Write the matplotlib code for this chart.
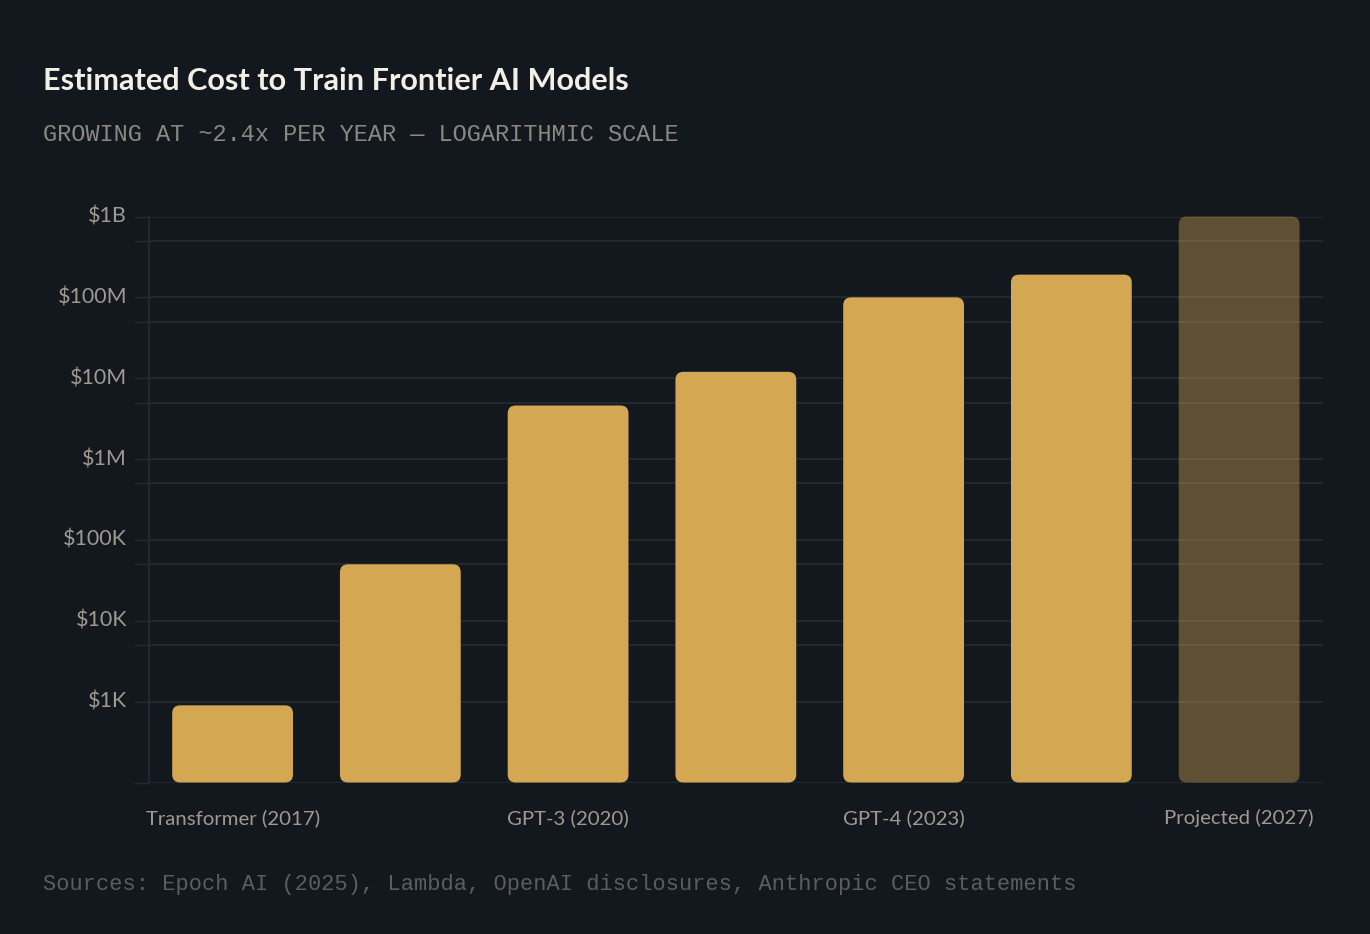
import matplotlib
matplotlib.use("Agg")
import matplotlib.pyplot as plt
from matplotlib.patches import FancyBboxPatch
from matplotlib.ticker import FixedLocator, NullFormatter
import matplotlib.transforms as mtransforms

# ---------------- data ----------------
models = ["Transformer (2017)", "GPT-2 (2019)", "GPT-3 (2020)", "PaLM (2022)",
          "GPT-4 (2023)", "Gemini Ultra (2024)", "Projected (2027)"]
costs = [900, 50_000, 4_600_000, 12_000_000, 100_000_000, 191_000_000, 1_000_000_000]
projected = [False, False, False, False, False, False, True]
show_label = [True, False, True, False, True, False, True]

ytick_values = [1e2, 1e3, 1e4, 1e5, 1e6, 1e7, 1e8, 1e9]
ytick_labels = ["", "$1K", "$10K", "$100K", "$1M", "$10M", "$100M", "$1B"]
minor_grid = [5e3, 5e4, 5e5, 5e6, 5e7, 5e8]

title = "Estimated Cost to Train Frontier AI Models"
subtitle = "GROWING AT ~2.4x PER YEAR — LOGARITHMIC SCALE"
footer = "Sources: Epoch AI (2025), Lambda, OpenAI disclosures, Anthropic CEO statements"

# ---------------- style ----------------
BG = "#13171e"
GRID = "#252930"
BAR = "#d4a853"
TICK = "#a09990"
TITLE_C = "#f3efe7"
SUB_C = "#8c8780"
FOOT_C = "#5b5d61"
SANS = ["Lato", "DejaVu Sans"]
MONO = ["Liberation Mono", "DejaVu Sans Mono"]

W, H = 1370, 934
fig = plt.figure(figsize=(W / 100, H / 100), dpi=100, facecolor=BG)

ax_l, ax_r, ax_t, ax_b = 148.7, 1323, 216.5, 782.5
ax = fig.add_axes([ax_l / W, 1 - ax_b / H, (ax_r - ax_l) / W, (ax_b - ax_t) / H])
ax.set_facecolor(BG)
ax.set_yscale("log")
ax.set_ylim(1e2, 1e9)
n = len(models)
ax.set_xlim(-0.5, n - 0.5)

# grid & ticks
ax.yaxis.set_major_locator(FixedLocator(ytick_values))
ax.set_yticklabels(ytick_labels)
ax.yaxis.set_minor_locator(FixedLocator(minor_grid))
ax.yaxis.set_minor_formatter(NullFormatter())
ax.grid(True, which="both", axis="y", color=GRID, linewidth=1.3, zorder=0)
ax.tick_params(axis="y", which="both", length=11, width=1, color=GRID,
               labelcolor=TICK, labelsize=15.5, pad=4.5)
up = mtransforms.ScaledTranslation(0, 2 / 100, fig.dpi_scale_trans)
for lab in ax.get_yticklabels():
    lab.set_family(SANS)
    lab.set_transform(lab.get_transform() + up)
ax.set_axisbelow(True)

for s in ["top", "right", "bottom"]:
    ax.spines[s].set_visible(False)
ax.spines["left"].set_color(GRID)
ax.spines["left"].set_linewidth(1.3)

# bars
bars = ax.bar(range(n), costs, width=0.72, color=BAR)
ax.set_xticks(range(n))
ax.set_xticklabels([m if s else "" for m, s in zip(models, show_label)],
                   family=SANS, fontsize=14.7, color=TICK)
ax.tick_params(axis="x", length=0, pad=19)

to_axes = ax.transData + ax.transAxes.inverted()
ax_w_px = ax_r - ax_l
ax_h_px = ax_b - ax_t
radius_px = 8
for rect, proj in zip(bars, projected):
    rect.set_visible(False)
    x0, x1 = rect.get_x(), rect.get_x() + rect.get_width()
    (ax0, ay1) = to_axes.transform((x0, rect.get_height()))
    (ax1, _) = to_axes.transform((x1, rect.get_height()))
    ay0 = 0.0
    patch = FancyBboxPatch((ax0, ay0), ax1 - ax0, ay1 - ay0,
                           boxstyle=f"round,pad=0,rounding_size={radius_px / ax_w_px}",
                           mutation_aspect=ax_w_px / ax_h_px,
                           transform=ax.transAxes, facecolor=BAR,
                           alpha=0.4 if proj else 1.0, edgecolor="none",
                           zorder=3, clip_on=False)
    ax.add_patch(patch)

# texts
fig.text(43 / W, 1 - 89.5 / H, title, family=SANS, fontweight="bold",
         fontsize=22.1, color=TITLE_C, va="baseline", ha="left")
fig.text(43 / W, 1 - 141 / H, subtitle, family=MONO, fontsize=17.0,
         color=SUB_C, va="baseline", ha="left")
fig.text(43 / W, 1 - 890 / H, footer, family=MONO, fontsize=15.8,
         color=FOOT_C, va="baseline", ha="left")

fig.savefig("out.png", dpi=100, facecolor=BG)
